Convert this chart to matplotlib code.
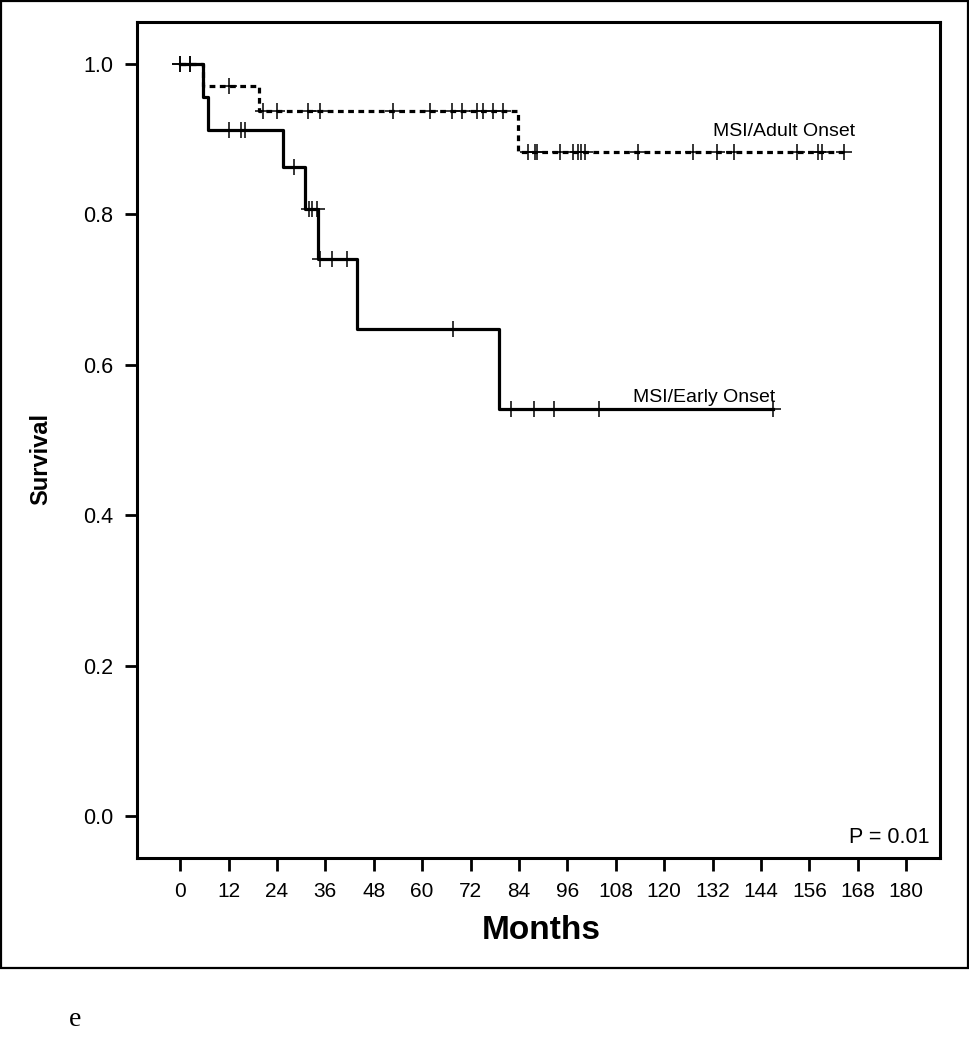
import matplotlib
matplotlib.use("Agg")
import matplotlib.pyplot as plt
from matplotlib.patches import Rectangle
import numpy as np

# Kaplan-Meier steps (months, survival)
early_times = [0, 5.7, 7.0, 25.5, 31.0, 34.2, 43.9, 79.1, 147.0]
early_surv = [1.0, 0.956, 0.912, 0.863, 0.807, 0.741, 0.648, 0.541, 0.541]
early_censor = [0, 2.5, 12, 15, 16, 28.3, 32, 32.7, 34, 34.7, 37.7, 41.4,
                67.7, 82, 87.8, 92.7, 103.9, 147]

adult_times = [0, 5.7, 19.6, 83.8, 164.5]
adult_surv = [1.0, 0.971, 0.9375, 0.883, 0.883]
adult_censor = [0, 2.5, 12, 20.6, 24, 31.7, 34.7, 52.8, 62, 67.4, 69.9, 73.6,
                75.1, 77.6, 80.1, 86.3, 88, 88.6, 94.2, 97.4, 98.7, 99.4,
                100.4, 113.6, 127.2, 133.2, 137.4, 153, 158.2, 159.2, 164.5]

xticks = list(range(0, 181, 12))
yticks = [0.0, 0.2, 0.4, 0.6, 0.8, 1.0]

narrow = ['Liberation Sans Narrow', 'Liberation Sans', 'DejaVu Sans']
plt.rcParams['font.family'] = ['Liberation Sans', 'DejaVu Sans']


def surv_at(times, surv, t):
	i = np.searchsorted(times, t, side='right') - 1
	return np.asarray(surv)[i]


fig = plt.figure(figsize=(9.7, 10.5), dpi=100)
ax = fig.add_axes([137/970, (1050-858)/1050, (940-137)/970, (858-22)/1050])

ax.step(early_times, early_surv, where='post', color='black', lw=2.3)
ax.plot(early_censor, surv_at(early_times, early_surv, early_censor), '+',
	color='black', ms=11, mew=1.1)

ax.step(adult_times, adult_surv, where='post', color='black', lw=2.3,
	linestyle=(0, (1.8, 1.4)))
ax.plot(adult_censor, surv_at(adult_times, adult_surv, adult_censor), '+',
	color='black', ms=11, mew=1.1)

ax.text(132.2, 0.911, 'MSI/Adult Onset', fontsize=14, va='center', ha='left')
ax.text(112.3, 0.557, 'MSI/Early Onset', fontsize=14, va='center', ha='left')
ax.text(0.9875, 0.024, 'P = 0.01', fontsize=15.5, ha='right', va='center',
	transform=ax.transAxes)

ax.set_xlim(-10.7, 188.4)
ax.set_ylim(-0.056, 1.056)
ax.set_xticks(xticks)
ax.set_xticklabels([str(t) for t in xticks], family=narrow, fontsize=15)
ax.set_yticks(yticks)
ax.set_yticklabels(['{:.1f}'.format(t) for t in yticks], fontsize=15.5)
ax.tick_params(direction='out', length=9, width=2, pad=8)

for sp in ax.spines.values():
	sp.set_linewidth(2.2)

ax.set_xlabel('Months', family=narrow, fontsize=24, fontweight='bold')
ax.xaxis.set_label_coords(0.504, -0.068)
ax.set_ylabel('Survival', fontsize=17, fontweight='bold')
ax.yaxis.set_label_coords(-0.106, 0.477)

fig.patches.append(Rectangle((1/970, (1050-968)/1050), 967/970, 967/1050,
	transform=fig.transFigure, fill=False, lw=1.6, edgecolor='black'))
fig.text(75/970, 1 - 1020/1050, 'e', family='Liberation Serif', fontsize=20,
	ha='center', va='center')

fig.savefig('out.png', dpi=100)
